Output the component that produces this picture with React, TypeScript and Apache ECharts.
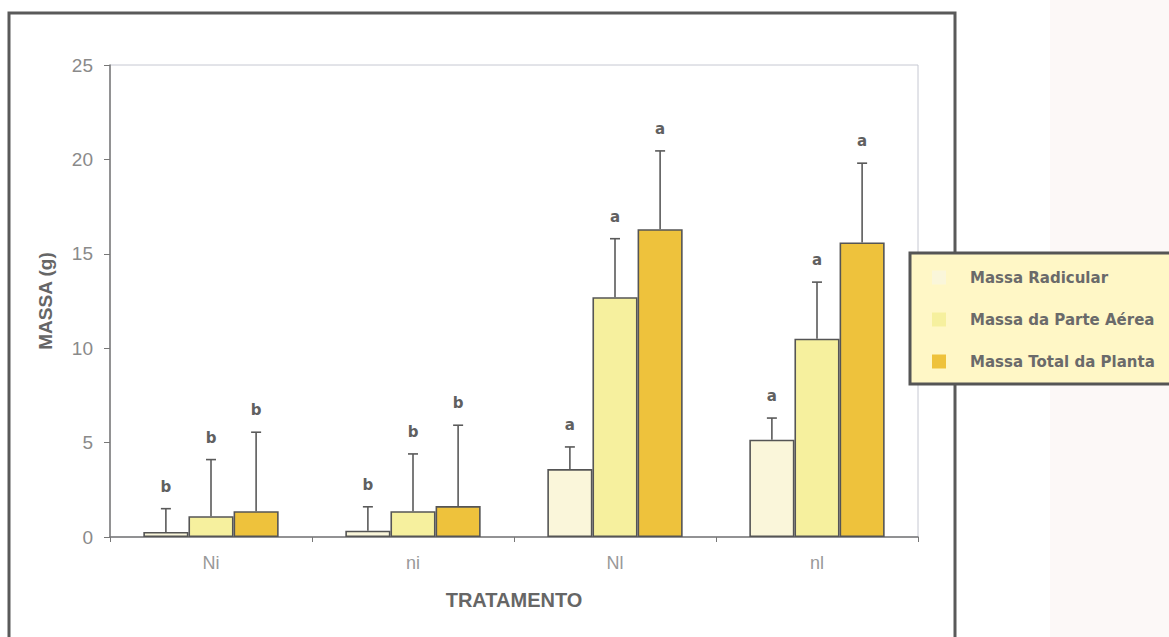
import React, { useEffect, useRef } from "react";
import * as echarts from "echarts";

const categories = ["Ni", "ni", "Nl", "nl"];
const seriesNames = ["Massa Radicular", "Massa da Parte Aérea", "Massa Total da Planta"];
const radicular = [0.27, 0.33, 3.6, 5.15];
const radicularErr = [1.23, 1.27, 1.17, 1.15];
const aerea = [1.1, 1.37, 12.7, 10.5];
const aereaErr = [3.0, 3.03, 3.1, 3.0];
const total = [1.37, 1.64, 16.3, 15.6];
const totalErr = [4.18, 4.28, 4.15, 4.2];
const letters = ["b", "b", "a", "a"];
const yTicks = [0, 5, 10, 15, 20, 25];

const colors = ["#FAF6DA", "#F6F09E", "#EEC23C"];
const means = [radicular, aerea, total];
const errs = [radicularErr, aereaErr, totalErr];

const CAT_GAP = 0.33;

export default function App() {
  const ref = useRef<HTMLDivElement>(null);
  useEffect(() => {
    document.body.style.margin = "0";
    const chart = echarts.init(ref.current!, null, { renderer: "svg" });

    const barSeries = seriesNames.map((name, i) => ({
      name,
      type: "bar",
      data: means[i],
      barGap: "0%",
      barCategoryGap: CAT_GAP * 100 + "%",
      itemStyle: { color: colors[i], borderColor: "#555", borderWidth: 1.6 },
      z: 2,
    }));

    const errSeries = seriesNames.map((name, i) => ({
      name: name + "_err",
      type: "custom",
      z: 3,
      data: categories.map((c, k) => [k, means[i][k], errs[i][k], letters[k]]),
      renderItem: (params: any, api: any) => {
        const k = api.value(0);
        const m = api.value(1);
        const e = api.value(2);
        const catW = api.size([1, 0])[0];
        const bw = (catW * (1 - CAT_GAP)) / 3;
        const base = api.coord([k, m]);
        const top = api.coord([k, m + e]);
        const x = base[0] + (i - 1) * bw;
        const st = { stroke: "#5a5a5a", lineWidth: 1.6 };
        return {
          type: "group",
          children: [
            { type: "line", shape: { x1: x, y1: base[1], x2: x, y2: top[1] }, style: st },
            { type: "line", shape: { x1: x - 5, y1: top[1], x2: x + 5, y2: top[1] }, style: st },
            {
              type: "text",
              style: {
                x,
                y: top[1] - 22,
                text: letters[k],
                align: "center",
                verticalAlign: "middle",
                fill: "#606060",
                font: "bold 15px 'DejaVu Sans'",
              },
            },
          ],
        };
      },
    }));

    chart.setOption({
      animation: false,
      backgroundColor: "#ffffff",
      grid: {
        left: 110,
        top: 65,
        width: 808,
        height: 472,
        show: true,
        borderColor: "#c6c8d2",
        borderWidth: 1,
      },
      legend: {
        data: seriesNames,
        orient: "vertical",
        left: 910,
        top: 253,
        itemWidth: 14,
        itemHeight: 14,
        itemGap: 27,
        padding: [17, 40, 15, 22],
        backgroundColor: "#FFF7C6",
        borderColor: "#555",
        borderWidth: 3,
        icon: "rect",
        textStyle: {
          fontFamily: "DejaVu Sans",
          fontWeight: "bold",
          fontSize: 15,
          lineHeight: 14,
          color: "#6a6a6a",
          padding: [0, 0, 0, 19],
        },
        itemStyle: { borderWidth: 0 },
      },
      xAxis: {
        type: "category",
        data: categories,
        name: "TRATAMENTO",
        nameLocation: "middle",
        nameGap: 53,
        nameTextStyle: {
          fontFamily: "Liberation Sans",
          fontWeight: "bold",
          fontSize: 20,
          color: "#666",
        },
        axisLine: { lineStyle: { color: "#777", width: 1.5 } },
        axisTick: { show: true, length: 5, lineStyle: { color: "#777" } },
        axisLabel: {
          fontFamily: "Liberation Sans",
          fontSize: 18,
          color: "#999",
          margin: 17,
        },
      },
      yAxis: {
        type: "value",
        min: 0,
        max: 25,
        interval: 5,
        name: "MASSA (g)",
        nameLocation: "middle",
        nameGap: 55,
        nameRotate: 90,
        nameTextStyle: {
          fontFamily: "Liberation Sans",
          fontWeight: "bold",
          fontSize: 19,
          color: "#666",
        },
        axisLine: { show: true, lineStyle: { color: "#777", width: 1.5 } },
        axisTick: { show: true, length: 6, lineStyle: { color: "#777" } },
        splitLine: { show: false },
        axisLabel: {
          fontFamily: "Liberation Sans",
          fontSize: 19,
          color: "#8a8a8a",
          margin: 17,
          formatter: (v: number) => (yTicks.includes(v) ? String(v) : ""),
        },
      },
      graphic: [
        {
          type: "rect",
          z: -10,
          shape: { x: 1050, y: 0, width: 119, height: 637 },
          style: { fill: "#fcf8f7" },
        },
        {
          type: "rect",
          z: -5,
          shape: { x: 9, y: 13, width: 946, height: 700 },
          style: { fill: "none", stroke: "#5a5a5a", lineWidth: 3 },
        },
      ],
      series: [...barSeries, ...errSeries],
    });
    return () => chart.dispose();
  }, []);
  return <div ref={ref} style={{ width: 1169, height: 637 }} />;
}
